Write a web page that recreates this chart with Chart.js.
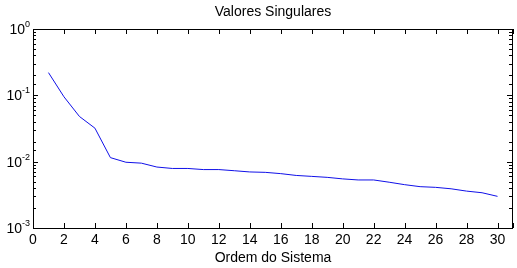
<!DOCTYPE html>
<html>
<head>
<meta charset="utf-8">
<script src="https://cdn.jsdelivr.net/npm/chart.js@4/dist/chart.umd.min.js"></script>
<style>
  html, body { margin: 0; padding: 0; background: #fff; }
  #wrap { width: 517px; height: 268px; }
</style>
</head>
<body>
<div id="wrap"><canvas id="grafico"></canvas></div>
<script>
// Ordem do sistema (eixo x)
const ordens = [1, 2, 3, 4, 5, 6, 7, 8, 9, 10, 11, 12, 13, 14, 15,
                16, 17, 18, 19, 20, 21, 22, 23, 24, 25, 26, 27, 28, 29, 30];
// Valores singulares
const valoresSingulares = [0.22, 0.095, 0.048, 0.032, 0.0115, 0.0098, 0.0095, 0.0083, 0.0079, 0.0079,
                           0.0076, 0.0076, 0.0073, 0.0070, 0.0069, 0.0066, 0.0062, 0.0060, 0.0058, 0.0055,
                           0.0053, 0.0053, 0.0049, 0.0045, 0.0042, 0.0041, 0.0039, 0.0036, 0.0034, 0.0030];
// Marcas do eixo x e expoentes das décadas do eixo y
const marcasX = [0, 2, 4, 6, 8, 10, 12, 14, 16, 18, 20, 22, 24, 26, 28, 30, 31];
const expoentesY = [0, -1, -2, -3];

const tituloTexto = 'Valores Singulares';
const fonte = '"Liberation Sans", Arial, sans-serif';

// Plugin: caixa + marcas internas estilo MATLAB + título + rótulos 10^n
const estiloMatlab = {
    id: 'estiloMatlab',
    afterDraw(chart) {
        const ctx = chart.ctx;
        const a = chart.chartArea;
        const sx = chart.scales.x, sy = chart.scales.y;
        ctx.save();
        ctx.strokeStyle = '#000';
        ctx.lineWidth = 1;
        ctx.strokeRect(Math.round(a.left) + 0.5, Math.round(a.top) + 0.5,
                       Math.round(a.right - a.left) - 1, Math.round(a.bottom - a.top));
        ctx.beginPath();
        sx.ticks.forEach(t => {
            const px = Math.round(sx.getPixelForValue(t.value)) + 0.5;
            ctx.moveTo(px, a.bottom); ctx.lineTo(px, a.bottom - 5);
            ctx.moveTo(px, a.top); ctx.lineTo(px, a.top + 5);
        });
        sy.ticks.forEach(t => {
            const py = Math.round(sy.getPixelForValue(t.value)) + 0.5;
            const lg = Math.log10(t.value);
            const len = Math.abs(lg - Math.round(lg)) < 1e-9 ? 5 : 3;
            ctx.moveTo(a.left, py); ctx.lineTo(a.left + len, py);
            ctx.moveTo(a.right - 1, py); ctx.lineTo(a.right - 1 - len, py);
        });
        ctx.stroke();

        ctx.fillStyle = '#000';
        ctx.textBaseline = 'middle';
        ctx.textAlign = 'center';
        ctx.font = '14px ' + fonte;
        ctx.fillText(tituloTexto, (a.left + a.right) / 2, 12);

        // rótulos do eixo y: "10" com expoente sobrescrito
        ctx.textAlign = 'left';
        ctx.textBaseline = 'alphabetic';
        expoentesY.forEach(e => {
            const py = sy.getPixelForValue(Math.pow(10, e));
            const base = '10';
            const exp = e === 0 ? '0' : '-' + Math.abs(e);
            ctx.font = '14px ' + fonte;
            const wb = ctx.measureText(base).width;
            ctx.font = '9px ' + fonte;
            const we = ctx.measureText(exp).width;
            const x0 = a.left - 3 - wb - we;
            ctx.font = '14px ' + fonte;
            ctx.fillText(base, x0, py + 5);
            ctx.font = '9px ' + fonte;
            ctx.fillText(exp, x0 + wb, py - 2);
        });
        ctx.restore();
    }
};

new Chart(document.getElementById('grafico').getContext('2d'), {
    type: 'line',
    data: {
        datasets: [{
            data: ordens.map((o, i) => ({ x: o, y: valoresSingulares[i] })),
            borderColor: '#1010e8',
            borderWidth: 1,
            pointRadius: 0,
            tension: 0,
            fill: false
        }]
    },
    options: {
        responsive: true,
        maintainAspectRatio: false,
        animation: false,
        events: [],
        layout: { padding: { top: 29, right: 1, left: 0, bottom: 0 } },
        plugins: { legend: { display: false }, title: { display: false }, tooltip: { enabled: false } },
        scales: {
            x: {
                type: 'linear',
                min: 0,
                max: 31,
                grid: { display: false, drawTicks: false },
                border: { display: false },
                afterBuildTicks: s => { s.ticks = marcasX.map(v => ({ value: v })); },
                ticks: {
                    autoSkip: false,
                    maxRotation: 0,
                    padding: 4,
                    color: '#000',
                    font: { family: fonte, size: 14 },
                    callback: v => (v === 31 ? '' : String(v))
                },
                title: {
                    display: true,
                    text: 'Ordem do Sistema',
                    color: '#000',
                    font: { family: fonte, size: 14 },
                    padding: { top: 0, bottom: 1 }
                },
                afterFit: s => { s.height = 40; }
            },
            y: {
                type: 'logarithmic',
                min: 0.001,
                max: 1,
                grid: { display: false, drawTicks: false },
                border: { display: false },
                ticks: {
                    autoSkip: false,
                    padding: 3,
                    callback: () => ''
                },
                afterFit: s => { s.width = 33; }
            }
        }
    },
    plugins: [estiloMatlab]
});
</script>
</body>
</html>
